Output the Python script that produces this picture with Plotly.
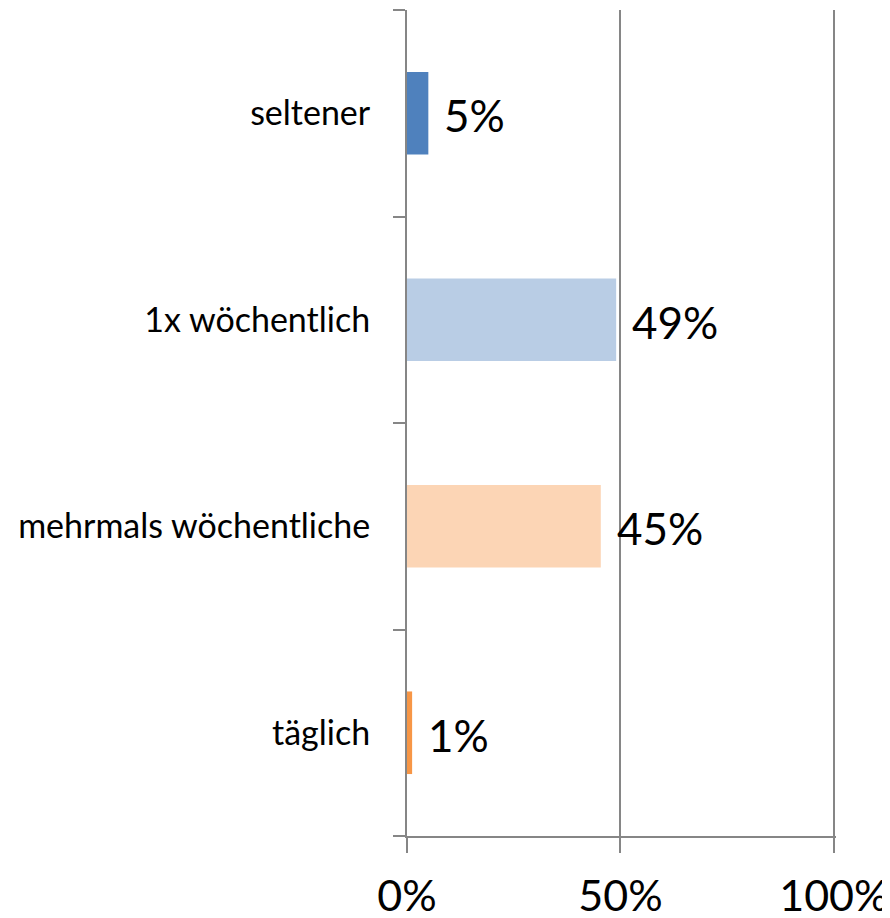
import plotly.graph_objects as go

categories = ["täglich", "mehrmals wöchentliche", "1x wöchentlich", "seltener"]
values = [0.012, 0.454, 0.49, 0.05]
bar_colors = ["#F79646", "#FCD5B5", "#B9CDE5", "#4F81BD"]
x_tickvals = [0, 0.5, 1.0]
x_ticktext = ["0%", "50%", "100%"]

FONT = "Lato"
AX = "#868686"

fig = go.Figure()
fig.add_trace(go.Bar(
    x=values, y=categories, orientation="h",
    marker=dict(color=bar_colors, line=dict(width=0)),
    width=0.4, hoverinfo="skip",
))

for v, c in zip(values, categories):
    fig.add_annotation(
        x=v, y=c, text=f"{round(v*100)}%", showarrow=False,
        xanchor="left", yanchor="middle", xshift=14, yshift=-2,
        font=dict(family=FONT, size=44, color="#000000"),
    )

fig.update_layout(
    width=882, height=910,
    margin=dict(l=399, r=54, t=2, b=82),
    paper_bgcolor="white", plot_bgcolor="white",
    showlegend=False,
    xaxis=dict(
        range=[0, 1.005], tickvals=x_tickvals, ticktext=x_ticktext,
        showgrid=True, gridcolor=AX, gridwidth=1.5,
        showline=True, linecolor=AX, linewidth=2,
        ticks="outside", ticklen=15, tickwidth=2, tickcolor=AX,
        tickfont=dict(family=FONT, size=43, color="#000000"),
        zeroline=False, fixedrange=True, ticklabelstandoff=6,
        automargin=False,
    ),
    yaxis=dict(
        categoryorder="array", categoryarray=categories,
        range=[-0.5, 3.5],
        showgrid=False, zeroline=False,
        showline=True, linecolor=AX, linewidth=2,
        ticks="outside", ticklen=12, tickwidth=2, tickcolor=AX,
        tickson="boundaries",
        tickfont=dict(family=FONT, size=34, color="#000000"),
        ticklabelstandoff=28, automargin=False,
    ),
)

fig.write_html("out.html")
